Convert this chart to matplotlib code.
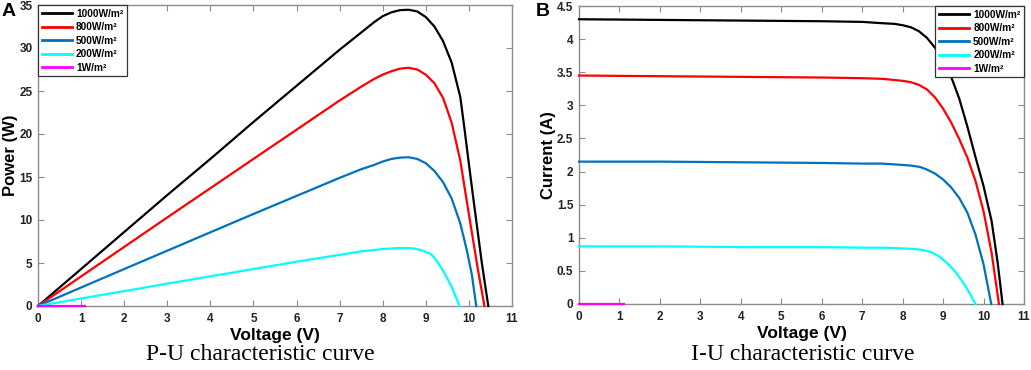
import matplotlib
matplotlib.use("Agg")
import matplotlib.pyplot as plt

# ---------------- data ----------------
labels = ["1000W/m²", "800W/m²", "500W/m²", "200W/m²", "1W/m²"]
colors = ["#000000", "#FF0000", "#0072BD", "#00FFFF", "#FF00FF"]

# P-U curves
pv_1000 = [0, 1, 2, 3, 4, 5, 6, 7, 7.5, 7.8, 8.0, 8.2, 8.4, 8.6, 8.8, 9.0, 9.2, 9.4, 9.6, 9.8, 9.9, 10.0, 10.1, 10.2, 10.3, 10.45]
pp_1000 = [0, 4.3, 8.6, 12.9, 17.1, 21.4, 25.6, 29.8, 31.8, 33.0, 33.7, 34.15, 34.4, 34.45, 34.25, 33.6, 32.5, 30.8, 28.3, 24.3, 20.5, 16.5, 12.6, 8.8, 5.0, 0]
pv_800 = [0, 1, 2, 3, 4, 5, 6, 7, 7.5, 7.8, 8.0, 8.2, 8.4, 8.6, 8.8, 9.0, 9.2, 9.4, 9.6, 9.8, 9.95, 10.07, 10.2, 10.36]
pp_800 = [0, 3.44, 6.87, 10.3, 13.7, 17.1, 20.5, 23.9, 25.5, 26.4, 26.9, 27.3, 27.6, 27.7, 27.5, 26.9, 25.9, 24.2, 21.3, 16.9, 12.2, 8.5, 4.5, 0]
pv_500 = [0, 1, 2, 3, 4, 5, 6, 7, 7.5, 7.8, 8.0, 8.2, 8.4, 8.6, 8.8, 9.0, 9.2, 9.4, 9.6, 9.8, 9.95, 10.07, 10.17]
pp_500 = [0, 2.15, 4.3, 6.43, 8.57, 10.7, 12.8, 14.9, 15.9, 16.4, 16.8, 17.1, 17.25, 17.3, 17.1, 16.6, 15.7, 14.4, 12.5, 9.6, 6.5, 3.6, 0]
pv_200 = [0, 1, 2, 3, 4, 5, 6, 7, 7.5, 8.0, 8.3, 8.5, 8.7, 8.9, 9.1, 9.2, 9.3, 9.4, 9.5, 9.6, 9.7, 9.78]
pp_200 = [0, 0.87, 1.73, 2.6, 3.45, 4.3, 5.15, 5.95, 6.35, 6.62, 6.72, 6.75, 6.7, 6.5, 6.1, 5.6, 4.9, 4.1, 3.2, 2.2, 1.0, 0]
pv_1 = [0, 1.1]
pp_1 = [0, 0]

# I-U curves
iv_1000 = [0, 2, 4, 6, 7, 7.5, 7.8, 8.0, 8.2, 8.4, 8.6, 8.8, 9.0, 9.2, 9.4, 9.6, 9.8, 10.0, 10.2, 10.35, 10.47]
ii_1000 = [4.30, 4.29, 4.28, 4.27, 4.26, 4.24, 4.23, 4.21, 4.18, 4.12, 4.02, 3.87, 3.68, 3.43, 3.10, 2.68, 2.22, 1.78, 1.25, 0.62, 0]
iv_800 = [0, 2, 4, 6, 7, 7.5, 8.0, 8.2, 8.4, 8.6, 8.8, 9.0, 9.2, 9.4, 9.6, 9.8, 10.0, 10.2, 10.38]
ii_800 = [3.45, 3.44, 3.43, 3.42, 3.41, 3.40, 3.37, 3.35, 3.31, 3.24, 3.12, 2.95, 2.74, 2.49, 2.21, 1.86, 1.40, 0.77, 0]
iv_500 = [0, 2, 4, 6, 7, 7.5, 8.0, 8.2, 8.43, 8.6, 8.8, 9.0, 9.2, 9.4, 9.6, 9.8, 10.0, 10.19]
ii_500 = [2.15, 2.15, 2.14, 2.13, 2.12, 2.12, 2.10, 2.09, 2.07, 2.03, 1.97, 1.88, 1.76, 1.60, 1.38, 1.05, 0.60, 0]
iv_200 = [0, 2, 4, 6, 7, 7.5, 8.0, 8.3, 8.5, 8.7, 8.9, 9.1, 9.3, 9.5, 9.65, 9.8]
ii_200 = [0.87, 0.87, 0.86, 0.86, 0.85, 0.85, 0.84, 0.83, 0.815, 0.785, 0.72, 0.62, 0.49, 0.32, 0.17, 0]
iv_1 = [0, 1.1]
ii_1 = [0, 0]

x_ticks = list(range(0, 12))
p_ticks = [0, 5, 10, 15, 20, 25, 30, 35]
i_ticks = [0, 0.5, 1, 1.5, 2, 2.5, 3, 3.5, 4, 4.5]

# ---------------- figure ----------------
plt.rcParams['font.family'] = ['Liberation Sans', 'DejaVu Sans']
W, H = 1031, 370
fig = plt.figure(figsize=(W / 100, H / 100), dpi=100)

axA = fig.add_axes([38 / W, (H - 306) / H, 474 / W, 301 / H])
axB = fig.add_axes([579 / W, (H - 304) / H, 445 / W, 298 / H])

spine_col = "#8C8C8C"

def style(ax, yticks, ylim, ylabel, fmt):
    ax.set_xlim(0, 11)
    ax.set_ylim(*ylim)
    ax.set_xticks(x_ticks)
    ax.set_yticks(yticks)
    ax.set_xticklabels([str(t) for t in x_ticks])
    ax.set_yticklabels([fmt(t) for t in yticks])
    for s in ax.spines.values():
        s.set_color(spine_col)
        s.set_linewidth(1.0)
    ax.tick_params(direction="in", length=4, width=0.8, color=spine_col,
                   top=True, right=True, labelsize=8.5, labelcolor="#222222", pad=4)
    ax.tick_params(axis="x", pad=5)
    for lab in ax.get_xticklabels() + ax.get_yticklabels():
        lab.set_fontweight("bold")
    ax.set_xlabel("Voltage (V)", fontsize=12.5, fontweight="bold", labelpad=2)
    ax.set_ylabel(ylabel, fontsize=12, fontweight="bold", labelpad=1)

p_sets = [(pv_1000, pp_1000), (pv_800, pp_800), (pv_500, pp_500), (pv_200, pp_200), (pv_1, pp_1)]
i_sets = [(iv_1000, ii_1000), (iv_800, ii_800), (iv_500, ii_500), (iv_200, ii_200), (iv_1, ii_1)]

for (v, p), c, lab in zip(p_sets, colors, labels):
    axA.plot(v, p, color=c, lw=1.6, label=lab, solid_joinstyle="round", clip_on=False, zorder=3)
for (v, i), c, lab in zip(i_sets, colors, labels):
    axB.plot(v, i, color=c, lw=1.6, label=lab, solid_joinstyle="round", clip_on=False, zorder=3)

style(axA, p_ticks, (0, 35), "Power (W)", lambda t: str(t))
style(axB, i_ticks, (0, 4.5), "Current (A)", lambda t: ("%g" % t))

leg_kw = dict(frameon=True, fancybox=False, framealpha=1.0, handlelength=3.0,
              handletextpad=0.4, borderpad=0.35, labelspacing=0.35,
              borderaxespad=0.0, prop={'weight': 'bold', 'size': 7.3})
legA = axA.legend(loc="upper left", **leg_kw)
legB = axB.legend(loc="upper right", **leg_kw)
for leg in (legA, legB):
    leg.get_frame().set_edgecolor("#333333")
    leg.get_frame().set_linewidth(0.9)
    leg.set_zorder(10)
    for ln in leg.get_lines():
        ln.set_linewidth(2.0)

fig.text(9 / W, 1 - 12 / H, "A", fontsize=14, fontweight="bold", ha="center", va="center")
fig.text(543 / W, 1 - 12 / H, "B", fontsize=14, fontweight="bold", ha="center", va="center")

fig.text(260 / W, 1 - 355 / H, "P-U characteristic curve", fontsize=17,
         family=["Liberation Serif", "DejaVu Serif"], ha="center", va="center")
fig.text(803 / W, 1 - 355 / H, "I-U characteristic curve", fontsize=17,
         family=["Liberation Serif", "DejaVu Serif"], ha="center", va="center")

fig.savefig("out.png", dpi=100)
